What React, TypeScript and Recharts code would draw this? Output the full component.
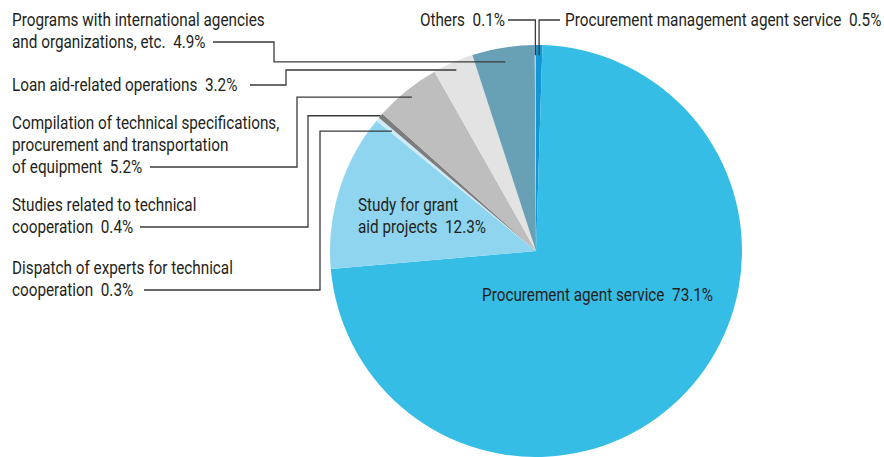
import { PieChart, Pie, Cell } from "recharts";

// ─── Data (clockwise from 12 o'clock) ─────────────────────

const sliceNames = [
  "Procurement management agent service",
  "Procurement agent service",
  "Study for grant aid projects",
  "Dispatch of experts for technical cooperation",
  "Studies related to technical cooperation",
  "Compilation of technical specifications, procurement and transportation of equipment",
  "Loan aid-related operations",
  "Programs with international agencies and organizations, etc.",
  "Others",
];
const sliceValues = [0.5, 73.1, 12.3, 0.3, 0.4, 5.2, 3.2, 4.9, 0.1];
const sliceColors = [
  "#1396d6",
  "#36bde6",
  "#8fd5f0",
  "#cdeaf6",
  "#7d7d7d",
  "#bebebe",
  "#e3e3e3",
  "#68a1b6",
  "#a9d1e0",
];

// label text lines (percent is appended to the last line)
const labelLines = [
  ["Procurement management agent service"],
  ["Procurement agent service"],
  ["Study for grant", "aid projects"],
  ["Dispatch of experts for technical", "cooperation"],
  ["Studies related to technical", "cooperation"],
  ["Compilation of technical specifications,", "procurement and transportation", "of equipment"],
  ["Loan aid-related operations"],
  ["Programs with international agencies", "and organizations, etc."],
  ["Others"],
];

// ─── Layout ───────────────────────────────────────────────

const W = 884;
const H = 457;
const CX = 536;
const CY = 251;
const R = 206;
const FONT = "Roboto, sans-serif";
const FS = 18;
const SQUEEZE = 0.85; // fake a condensed face
const LH = 22;
const INK = "#231f20";
const LINE = "#3a3a3a";

type Layout = {
  kind: "inside" | "left" | "top";
  x: number;
  y: number; // center of first line
  anchor: "start" | "end";
  lineStart?: number; // where leader begins next to the text
  elbowX?: number;
  rf?: number; // anchor radius factor
};

const layouts: Layout[] = [
  { kind: "top", x: 565, y: 20, anchor: "start", lineStart: 560, rf: 0.95 },
  { kind: "inside", x: 482, y: 295, anchor: "start" },
  { kind: "inside", x: 358, y: 205, anchor: "start" },
  { kind: "left", x: 12, y: 268, anchor: "start", lineStart: 144, elbowX: 320, rf: 0.91 },
  { kind: "left", x: 12, y: 205, anchor: "start", lineStart: 140, elbowX: 308, rf: 1.0 },
  { kind: "left", x: 12, y: 123, anchor: "start", lineStart: 150, elbowX: 297, rf: 0.96 },
  { kind: "left", x: 12, y: 85, anchor: "start", lineStart: 250, elbowX: 286, rf: 0.96 },
  { kind: "left", x: 12, y: 20, anchor: "start", lineStart: 213, elbowX: 274, rf: 0.93 },
  { kind: "top", x: 505, y: 20, anchor: "end", lineStart: 508, rf: 0.95 },
];

const RAD = Math.PI / 180;

function renderLabel(props: any) {
  const { cx, cy, midAngle, outerRadius, index } = props;
  const lay = layouts[index];
  const lines = labelLines[index].slice();
  lines[lines.length - 1] += `\u00a0\u00a0${sliceValues[index].toFixed(1)}%`;
  const lastY = lay.y + (lines.length - 1) * LH;

  let leader: string | null = null;
  if (lay.kind !== "inside") {
    const r = outerRadius * (lay.rf ?? 1);
    const ax = cx + r * Math.cos(-midAngle * RAD);
    const ay = cy + r * Math.sin(-midAngle * RAD);
    if (lay.kind === "left") {
      leader = `M${lay.lineStart},${lastY} H${lay.elbowX} V${ay} H${ax}`;
    } else {
      leader = `M${lay.lineStart},${lastY} H${ax} V${ay}`;
    }
  }

  return (
    <g key={`lbl-${index}`}>
      {leader && <path d={leader} fill="none" stroke={LINE} strokeWidth={1.3} />}
      {lines.map((t, i) => (
        <g key={i} transform={`translate(${lay.x},${lay.y + i * LH}) scale(${SQUEEZE},1)`}>
          <text
            x={0}
            y={0}
            textAnchor={lay.anchor}
            dominantBaseline="central"
            fontFamily={FONT}
            fontSize={FS}
            fill={INK}
          >
            {t}
          </text>
        </g>
      ))}
    </g>
  );
}

export default function App() {
  const data = sliceNames.map((name, i) => ({ name, value: sliceValues[i] }));
  return (
    <div style={{ position: "absolute", left: 0, top: 0, width: W, height: H, background: "#fff" }}>
      <PieChart width={W} height={H} margin={{ top: 0, right: 0, bottom: 0, left: 0 }}>
        <Pie
          data={data}
          dataKey="value"
          nameKey="name"
          cx={CX}
          cy={CY}
          outerRadius={R}
          startAngle={90}
          endAngle={-270}
          stroke="none"
          label={renderLabel}
          labelLine={false}
          isAnimationActive={false}
        >
          {data.map((d, i) => (
            <Cell key={d.name} fill={sliceColors[i]} />
          ))}
        </Pie>
      </PieChart>
    </div>
  );
}
